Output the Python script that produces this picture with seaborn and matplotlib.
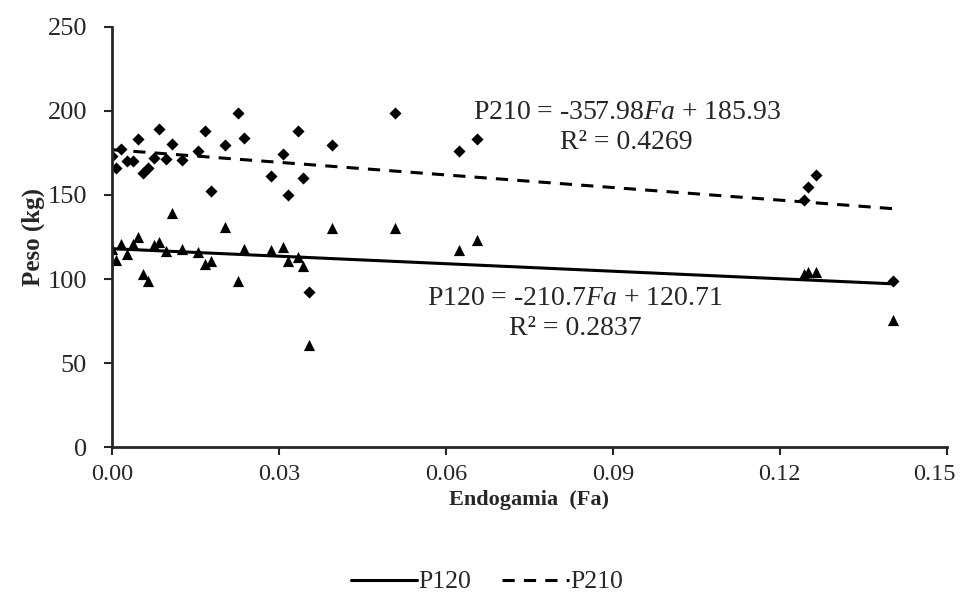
import numpy as np
import pandas as pd
import matplotlib
matplotlib.use('Agg')
import matplotlib.pyplot as plt
import matplotlib.transforms as mtransforms
from matplotlib.lines import Line2D
import seaborn as sns

# Data
fa = [0.0000, 0.0007, 0.0016, 0.0027, 0.0038, 0.0047, 0.0056, 0.0065, 0.0075,
      0.0084, 0.0097, 0.0108, 0.0126, 0.0154, 0.0167, 0.0178, 0.0203, 0.0226,
      0.0237, 0.0286, 0.0307, 0.0316, 0.0334, 0.0343, 0.0354, 0.0395, 0.0508,
      0.0623, 0.0656, 0.1243, 0.1250, 0.1265, 0.1403]
p210 = [173, 166, 177.5, 170, 170, 183.5, 163, 166, 172,
        189, 171.5, 180.5, 171, 176, 188, 152.6, 180, 199,
        184, 161, 174.6, 150, 188, 160, 92, 180, 198.5,
        176, 183.5, 147, 154.5, 162, 99]
p120 = [118, 111.5, 121, 115, 121, 125, 103, 98.6, 120.5,
        122, 116.4, 139.5, 118, 116, 109, 110.5, 131, 99,
        118, 117, 119, 111, 113, 108, 60.5, 130.6, 130.6,
        117, 123, 103, 104, 104, 75.5]

eq210 = ['P210 = -357.98$\\mathit{Fa}$ + 185.93', 'R\u00b2 = 0.4269']
eq120 = ['P120 = -210.7$\\mathit{Fa}$ + 120.71', 'R\u00b2 = 0.2837']

df = pd.DataFrame({'Fa': fa, 'P210': p210, 'P120': p120})

sns.set_style('ticks')
plt.rcParams['font.family'] = ['Liberation Serif', 'DejaVu Serif']
plt.rcParams['mathtext.fontset'] = 'custom'
plt.rcParams['mathtext.rm'] = 'Liberation Serif'
plt.rcParams['mathtext.it'] = 'Liberation Serif:italic'

fig = plt.figure(figsize=(9.67, 5.97), dpi=100)
ax = fig.add_axes([0.1158, 0.251, 0.8632, 0.704])

sns.regplot(data=df, x='Fa', y='P210', ci=None, marker='D', color='black',
            scatter_kws={'s': 38, 'linewidths': 0, 'alpha': 1}, truncate=True,
            line_kws={'linestyle': (0, (4, 3)), 'linewidth': 2.2}, ax=ax)
sns.regplot(data=df, x='Fa', y='P120', ci=None, marker='^', color='black',
            scatter_kws={'s': 65, 'linewidths': 0, 'alpha': 1}, truncate=True,
            line_kws={'linestyle': '-', 'linewidth': 2.2}, ax=ax)

ax.set_xlim(0, 0.15)
ax.set_ylim(0, 250)
ax.set_xticks(np.arange(0, 0.151, 0.03))
ax.set_xticklabels(['%.2f' % t for t in np.arange(0, 0.151, 0.03)])
ax.set_yticks(range(0, 251, 50))
ax.tick_params(width=1.5, length=6, direction='out')
ax.tick_params(axis='y', pad=12, labelsize=19)
ax.tick_params(axis='x', pad=6, labelsize=17.5)
sns.despine(ax=ax)
for s in ['left', 'bottom']:
    ax.spines[s].set_linewidth(2)

# last x label sits at the figure edge: nudge it inward
last = ax.get_xticklabels()[-1]
last.set_transform(last.get_transform() +
                   mtransforms.ScaledTranslation(-12 / 100, 0, fig.dpi_scale_trans))

ax.set_xlabel('Endogamia  (Fa)', fontsize=16, fontweight='bold', labelpad=4)
ax.set_ylabel('Peso (kg)', fontsize=18, fontweight='bold', labelpad=2)

ax.text(0.0925, 199, eq210[0], ha='center', va='center', fontsize=20)
ax.text(0.0925, 181, eq210[1], ha='center', va='center', fontsize=20)
ax.text(0.0832, 88.5, eq120[0], ha='center', va='center', fontsize=20)
ax.text(0.0832, 70.7, eq120[1], ha='center', va='center', fontsize=20)

handles = [Line2D([], [], color='black', linewidth=2.2, linestyle='-'),
           Line2D([], [], color='black', linewidth=2.2, linestyle=(0, (4, 3)))]
fig.legend(handles, ['P120', 'P210'], loc='center', ncol=2, frameon=False,
           bbox_to_anchor=(487 / 967, 1 - 582 / 597), fontsize=18.5,
           handlelength=2.6, handletextpad=0.05, columnspacing=1.2)

fig.savefig('out.png', dpi=100)
